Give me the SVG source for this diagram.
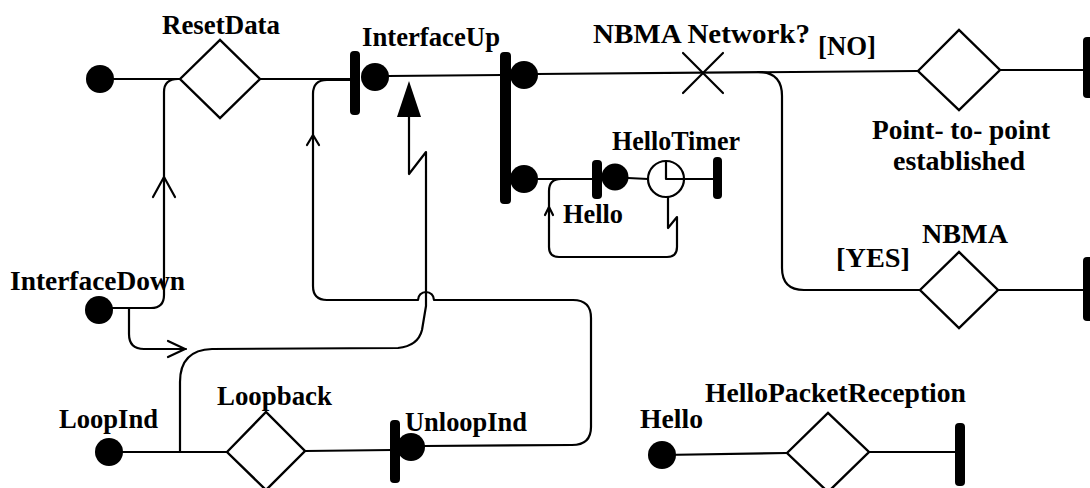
<svg xmlns="http://www.w3.org/2000/svg" width="1090" height="488" viewBox="0 0 1090 488">
<style>
.ln{fill:none;stroke:#000;stroke-width:2.2;stroke-linejoin:round;stroke-linecap:round}
.dia{fill:#fff;stroke:#000;stroke-width:2.4;stroke-linejoin:miter}
.bar{fill:#000}
.dot{fill:#000}
.t{font-family:"Liberation Serif","Times New Roman",serif;font-weight:bold;font-size:27px;fill:#000}
</style>
<rect width="1090" height="488" fill="#fff"/>
<g id="connectors">
  <path class="ln" d="M100,79 L180,79"/>
  <path class="ln" d="M260,79 L352,79"/>
  <path class="ln" d="M388,76 L502,75"/>
  <path class="ln" d="M536,74 L918,71"/>
  <path class="ln" d="M1000,70 L1086,70"/>
  <path class="ln" d="M758,72 Q782,72 782,96 L782,268 Q782,290 804,290 L920,290"/>
  <path class="ln" d="M998,290 L1086,290"/>
  <path class="ln" d="M536,179 L595,179"/>
  <path class="ln" d="M628,178 L648,179"/>
  <path class="ln" d="M684,179 L716,179"/>
  <path class="ln" d="M561,179 Q549,179 549,191 L549,247 Q549,257 559,257 L667,257 Q677,257 677,247 L677,217 L668,228 L668,197"/>
  <path class="ln" d="M545,215 L549,207 L553,215"/>
  <path class="ln" d="M99,308 L151,308 Q164,308 164,295 L164,92 Q164,79 178,79"/>
  <path class="ln" d="M153,197 L164,177 L175,197"/>
  <path class="ln" d="M129,308 L129,334 Q129,349 144,349 L186,349"/>
  <path class="ln" d="M168,341 L185,349 L168,357"/>
  <path class="ln" d="M109,452 L227,452"/>
  <path class="ln" d="M180,452 L180,382 Q180,350 212,349 L398,348 Q418,346 422,330 L426,306 L426,152 L409,174 L409,116"/>
  <polygon points="397,117 421,117 409,81" fill="#000"/>
  <path class="ln" d="M305,451 L392,450"/>
  <path class="ln" d="M424,446 L572,445 Q591,445 591,427 L591,318 Q591,300 573,300 L434,300 A8,8 0 0 0 418,300 L327,300 Q313,300 313,286 L313,94 Q313,80 327,80 L352,80"/>
  <path class="ln" d="M307,145 L313,135 L319,145"/>
  <path class="ln" d="M662,455 L787,453"/>
  <path class="ln" d="M869,452 L957,452"/>
</g>
<g id="start-initial"><circle class="dot" cx="100" cy="79" r="14"/></g>
<g id="ResetData">
  <polygon class="dia" points="180,79 220,40 260,79 220,118"/>
  <text class="t" x="162" y="34" textLength="118" lengthAdjust="spacingAndGlyphs">ResetData</text>
</g>
<g id="InterfaceUp">
  <rect class="bar" x="350" y="51" width="10" height="64" rx="4"/>
  <circle class="dot" cx="375" cy="77" r="14"/>
  <text class="t" x="362" y="46" textLength="138" lengthAdjust="spacingAndGlyphs">InterfaceUp</text>
</g>
<g id="fork">
  <rect class="bar" x="500" y="52" width="11" height="152" rx="4"/>
  <circle class="dot" cx="524" cy="75" r="14"/>
  <circle class="dot" cx="524" cy="179" r="14"/>
</g>
<g id="NBMANetwork">
  <path class="ln" d="M683,53 L723,93 M723,53 L683,93"/>
  <text class="t" x="593" y="43" textLength="217" lengthAdjust="spacingAndGlyphs">NBMA Network?</text>
</g>
<g id="guard-no"><text class="t" x="818" y="55" textLength="58" lengthAdjust="spacingAndGlyphs">[NO]</text></g>
<g id="PointToPoint">
  <polygon class="dia" points="918,71 959,30 1000,70 959,110"/>
  <text class="t" x="872" y="139" textLength="178" lengthAdjust="spacingAndGlyphs">Point- to- point</text>
  <text class="t" x="893" y="170" textLength="132" lengthAdjust="spacingAndGlyphs">established</text>
  <rect class="bar" x="1083" y="37" width="10" height="61" rx="4"/>
</g>
<g id="guard-yes"><text class="t" x="836" y="267" textLength="74" lengthAdjust="spacingAndGlyphs">[YES]</text></g>
<g id="NBMA">
  <polygon class="dia" points="920,290 959,252 998,290 959,328"/>
  <text class="t" x="922" y="243" textLength="86" lengthAdjust="spacingAndGlyphs">NBMA</text>
  <rect class="bar" x="1083" y="257" width="10" height="64" rx="4"/>
</g>
<g id="HelloTimer">
  <rect class="bar" x="592" y="160" width="10" height="39" rx="4"/>
  <circle class="dot" cx="615" cy="177" r="13.5"/>
  <circle cx="666" cy="179" r="18" fill="#fff" stroke="#000" stroke-width="2.2"/>
  <path class="ln" d="M666,161 L666,179 L684,179"/>
  <rect class="bar" x="713" y="157" width="9" height="42" rx="4"/>
  <text class="t" x="612" y="150" textLength="128" lengthAdjust="spacingAndGlyphs">HelloTimer</text>
</g>
<g id="HelloLabel"><text class="t" x="563" y="223" textLength="60" lengthAdjust="spacingAndGlyphs">Hello</text></g>
<g id="InterfaceDown">
  <circle class="dot" cx="99" cy="310" r="14"/>
  <text class="t" x="10" y="290" textLength="175" lengthAdjust="spacingAndGlyphs">InterfaceDown</text>
</g>
<g id="LoopInd">
  <circle class="dot" cx="109" cy="452" r="14"/>
  <text class="t" x="59" y="428" textLength="99" lengthAdjust="spacingAndGlyphs">LoopInd</text>
</g>
<g id="Loopback">
  <polygon class="dia" points="227,452 266,412 305,451 266,490"/>
  <text class="t" x="217" y="405" textLength="115" lengthAdjust="spacingAndGlyphs">Loopback</text>
</g>
<g id="UnloopInd">
  <rect class="bar" x="390" y="420" width="10" height="63" rx="4"/>
  <circle class="dot" cx="411" cy="447" r="14"/>
  <text class="t" x="405" y="431" textLength="122" lengthAdjust="spacingAndGlyphs">UnloopInd</text>
</g>
<g id="HelloIn">
  <circle class="dot" cx="662" cy="455" r="14"/>
  <text class="t" x="640" y="428" textLength="63" lengthAdjust="spacingAndGlyphs">Hello</text>
</g>
<g id="HelloPacketReception">
  <polygon class="dia" points="787,453 828,413 869,452 828,492"/>
  <rect class="bar" x="955" y="423" width="10" height="63" rx="4"/>
  <text class="t" x="705" y="402" textLength="261" lengthAdjust="spacingAndGlyphs">HelloPacketReception</text>
</g>
</svg>
